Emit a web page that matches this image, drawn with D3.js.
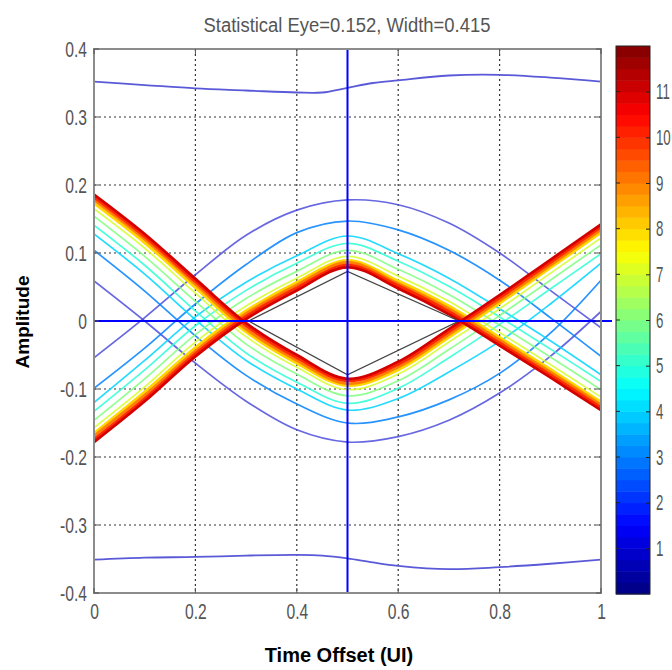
<!DOCTYPE html>
<html>
<head>
<meta charset="utf-8">
<script src="https://cdn.jsdelivr.net/npm/d3@7"></script>
<style>
  body { margin: 0; background: #fff; }
  svg { display: block; }
  .tick text { font-family: "Liberation Sans", Arial, sans-serif; fill: #555; }
</style>
</head>
<body>
<svg id="chart"></svg>
<script>
// ---- data ----
const xTicks = [0, 0.2, 0.4, 0.6, 0.8, 1];
const xTickLabels = ["0", "0.2", "0.4", "0.6", "0.8", "1"];
const yTicks = [-0.4, -0.3, -0.2, -0.1, 0, 0.1, 0.2, 0.3, 0.4];
const yTickLabels = ["-0.4", "-0.3", "-0.2", "-0.1", "0", "0.1", "0.2", "0.3", "0.4"];
const cbTicks = [1, 2, 3, 4, 5, 6, 7, 8, 9, 10, 11];

// time offsets (UI) shared by the contour traces
const timeGrid = [0, 0.1, 0.2, 0.3, 0.4, 0.5, 0.6, 0.7, 0.8, 0.9, 1];

// outermost contour (level 1), top and bottom
const outerX = [0, 0.1, 0.2, 0.3, 0.4, 0.45, 0.5, 0.55, 0.6, 0.7, 0.8, 0.9, 1];
const outerTop = [0.352, 0.347, 0.342, 0.339, 0.336, 0.336, 0.343, 0.350, 0.354, 0.361, 0.362, 0.358, 0.352];
const outerBottom = [-0.351, -0.348, -0.347, -0.345, -0.344, -0.345, -0.349, -0.355, -0.360, -0.365, -0.362, -0.357, -0.351];

// "V" traces (start high, trough at 0.5), levels 2..11
const vLevels = [2, 3, 4, 5, 6, 7, 8, 9, 10, 11];
const vL2  = [0.059, 0.000, -0.062, -0.118, -0.160, -0.178, -0.170, -0.146, -0.106, -0.052, 0.014];
const vL3  = [0.104, 0.044, -0.022, -0.080, -0.122, -0.150, -0.141, -0.116, -0.077, -0.018, 0.060];
const vL4  = [0.128, 0.069, 0.002, -0.058, -0.100, -0.131, -0.114, -0.075, -0.030, 0.025, 0.085];
const vL5  = [0.141, 0.082, 0.015, -0.047, -0.090, -0.121, -0.099, -0.054, -0.005, 0.047, 0.099];
const vL6  = [0.154, 0.095, 0.029, -0.034, -0.078, -0.110, -0.088, -0.042, 0.008, 0.060, 0.112];
const vL7  = [0.165, 0.107, 0.041, -0.023, -0.068, -0.101, -0.078, -0.031, 0.018, 0.070, 0.122];
const vL8  = [0.173, 0.115, 0.049, -0.016, -0.062, -0.095, -0.072, -0.024, 0.026, 0.078, 0.130];
const vL9  = [0.178, 0.120, 0.054, -0.012, -0.058, -0.092, -0.068, -0.020, 0.030, 0.082, 0.134];
const vL10 = [0.182, 0.124, 0.058, -0.007, -0.054, -0.088, -0.064, -0.016, 0.034, 0.086, 0.138];
const vL11 = [0.186, 0.128, 0.062, -0.003, -0.050, -0.085, -0.060, -0.012, 0.038, 0.090, 0.142];

// "Λ" traces (start low, peak at 0.5), levels 2..11
const aL2  = [-0.054, 0.005, 0.068, 0.126, 0.163, 0.178, 0.171, 0.144, 0.100, 0.045, -0.010];
const aL3  = [-0.099, -0.040, 0.025, 0.083, 0.130, 0.147, 0.134, 0.104, 0.060, 0.005, -0.052];
const aL4  = [-0.120, -0.058, 0.006, 0.057, 0.096, 0.125, 0.099, 0.063, 0.018, -0.029, -0.079];
const aL5  = [-0.133, -0.072, -0.007, 0.045, 0.085, 0.114, 0.088, 0.051, 0.006, -0.041, -0.089];
const aL6  = [-0.146, -0.085, -0.020, 0.033, 0.073, 0.104, 0.076, 0.039, -0.006, -0.053, -0.101];
const aL7  = [-0.157, -0.097, -0.031, 0.022, 0.063, 0.095, 0.066, 0.029, -0.017, -0.064, -0.112];
const aL8  = [-0.165, -0.104, -0.039, 0.015, 0.057, 0.089, 0.059, 0.022, -0.024, -0.071, -0.119];
const aL9  = [-0.169, -0.109, -0.044, 0.011, 0.053, 0.086, 0.055, 0.018, -0.028, -0.075, -0.123];
const aL10 = [-0.174, -0.114, -0.048, 0.007, 0.049, 0.082, 0.052, 0.014, -0.032, -0.079, -0.127];
const aL11 = [-0.178, -0.118, -0.052, 0.003, 0.045, 0.079, 0.048, 0.010, -0.036, -0.083, -0.131];

// eye opening outline (height 0.152, width 0.415)
const eyeX = [0.305, 0.5, 0.72, 0.5, 0.305];
const eyeY = [0, 0.073, 0, -0.079, 0];

const vTraces = [vL2, vL3, vL4, vL5, vL6, vL7, vL8, vL9, vL10, vL11];
const aTraces = [aL2, aL3, aL4, aL5, aL6, aL7, aL8, aL9, aL10, aL11];

// ---- layout ----
const width = 672, height = 670;
const plot = {left: 94, top: 49, right: 601, bottom: 593};
const cb = {left: 616, right: 650, top: 46, bottom: 594};

const svg = d3.select("#chart").attr("width", width).attr("height", height);

const x = d3.scaleLinear().domain([0, 1]).range([plot.left, plot.right]);
const y = d3.scaleLinear().domain([-0.4, 0.4]).range([plot.bottom, plot.top]);
const cbY = d3.scaleLinear().domain([0, 12]).range([cb.bottom, cb.top]);

// jet colormap
const jet = d3.scaleLinear()
    .domain([0, 0.125, 0.375, 0.625, 0.875, 1])
    .range(["#00007f", "#0000ff", "#00ffff", "#ffff00", "#ff0000", "#7f0000"]);
const levelColor = v => jet(v / 12);

// tall, narrow glyphs like the original figure font
function narrow(sel, sx, sy) {
    sel.each(function() {
        const t = d3.select(this);
        const tx = +t.attr("x") || 0, ty = +t.attr("y") || 0;
        t.attr("x", 0).attr("y", 0)
         .attr("transform", "translate(" + tx + "," + ty + ") scale(" + sx + "," + sy + ")");
    });
}

svg.append("defs").append("clipPath").attr("id", "clip")
    .append("rect")
    .attr("x", plot.left).attr("y", plot.top)
    .attr("width", plot.right - plot.left).attr("height", plot.bottom - plot.top);

// grid
const grid = svg.append("g").attr("class", "grid");
grid.selectAll(".gx").data(xTicks.slice(1, -1)).enter().append("line")
    .attr("x1", d => x(d)).attr("x2", d => x(d))
    .attr("y1", plot.top).attr("y2", plot.bottom)
    .attr("stroke", "#333").attr("stroke-width", 1.2).attr("stroke-dasharray", "2,3");
grid.selectAll(".gy").data(yTicks.slice(1, -1)).enter().append("line")
    .attr("x1", plot.left).attr("x2", plot.right)
    .attr("y1", d => y(d)).attr("y2", d => y(d))
    .attr("stroke", "#333").attr("stroke-width", 1.2).attr("stroke-dasharray", "2,3");

// contour traces
const traces = svg.append("g").attr("clip-path", "url(#clip)");
const gridLine = d3.line()
    .x((d, i) => x(timeGrid[i]))
    .y(d => y(d))
    .curve(d3.curveCatmullRom.alpha(0.5));
const outerLine = d3.line()
    .x((d, i) => x(outerX[i]))
    .y(d => y(d))
    .curve(d3.curveCatmullRom.alpha(0.5));

[outerTop, outerBottom].forEach(tr => {
    traces.append("path")
        .attr("d", outerLine(tr))
        .attr("fill", "none")
        .attr("stroke", "#5a5ad8")
        .attr("stroke-width", 1.8);
});

function strokeFor(lv) { return lv >= 8 ? 2.8 : 1.7; }

vLevels.forEach((lv, k) => {
    [vTraces[k], aTraces[k]].forEach(tr => {
        traces.append("path")
            .attr("d", gridLine(tr))
            .attr("fill", "none")
            .attr("stroke", lv <= 2 ? "#4c4cdc" : levelColor(lv))
            .attr("stroke-opacity", lv >= 8 ? 1 : 0.85)
            .attr("stroke-width", strokeFor(lv));
    });
});

// eye outline
traces.append("path")
    .attr("d", d3.line().x((d, i) => x(eyeX[i])).y(d => y(d))(eyeY))
    .attr("fill", "none")
    .attr("stroke", "#444")
    .attr("stroke-width", 1.3);

// crosshair
svg.append("line")
    .attr("x1", x(0)).attr("x2", plot.right + 11)
    .attr("y1", y(0)).attr("y2", y(0))
    .attr("stroke", "#0000ff").attr("stroke-width", 2);
svg.append("line")
    .attr("x1", x(0.5)).attr("x2", x(0.5))
    .attr("y1", plot.top).attr("y2", plot.bottom)
    .attr("stroke", "#0000ff").attr("stroke-width", 2);

// axes box
svg.append("rect")
    .attr("x", plot.left).attr("y", plot.top)
    .attr("width", plot.right - plot.left).attr("height", plot.bottom - plot.top)
    .attr("fill", "none").attr("stroke", "#8c8c8c").attr("stroke-width", 2);

// inner ticks
const ticksG = svg.append("g").attr("stroke", "#555").attr("stroke-width", 1);
yTicks.forEach(v => {
    ticksG.append("line").attr("x1", plot.left).attr("x2", plot.left + 5).attr("y1", y(v)).attr("y2", y(v));
    ticksG.append("line").attr("x1", plot.right - 5).attr("x2", plot.right).attr("y1", y(v)).attr("y2", y(v));
});
xTicks.forEach(v => {
    ticksG.append("line").attr("x1", x(v)).attr("x2", x(v)).attr("y1", plot.bottom - 5).attr("y2", plot.bottom);
    ticksG.append("line").attr("x1", x(v)).attr("x2", x(v)).attr("y1", plot.top).attr("y2", plot.top + 5);
});

// tick labels via axes
const xAxis = svg.append("g")
    .attr("transform", "translate(0," + plot.bottom + ")")
    .call(d3.axisBottom(x).tickValues(xTicks).tickSize(0).tickPadding(10)
        .tickFormat((d, i) => xTickLabels[i]));
const yAxis = svg.append("g")
    .attr("transform", "translate(" + plot.left + ",0)")
    .call(d3.axisLeft(y).tickValues(yTicks).tickSize(0).tickPadding(7)
        .tickFormat((d, i) => yTickLabels[i]));
[xAxis, yAxis].forEach(a => {
    a.select(".domain").remove();
    a.selectAll("text").style("font-size", "17px");
    narrow(a.selectAll("text"), 0.92, 1.3);
});

// colorbar
const cbBands = d3.range(0, 12, 0.25);
svg.append("g").selectAll("rect").data(cbBands).enter().append("rect")
    .attr("x", cb.left)
    .attr("y", d => cbY(d + 0.25))
    .attr("width", cb.right - cb.left)
    .attr("height", d => cbY(d) - cbY(d + 0.25) + 0.5)
    .attr("fill", d => levelColor(d + 0.125));
svg.append("rect")
    .attr("x", cb.left).attr("y", cb.top)
    .attr("width", cb.right - cb.left).attr("height", cb.bottom - cb.top)
    .attr("fill", "none").attr("stroke", "#222").attr("stroke-width", 1);
const cbAxis = svg.append("g")
    .attr("transform", "translate(" + cb.right + ",0)")
    .call(d3.axisRight(cbY).tickValues(cbTicks).tickSize(-4).tickPadding(6));
cbAxis.select(".domain").remove();
cbAxis.selectAll("line").attr("stroke", "#222");
cbAxis.selectAll("text").style("font-size", "17px");
narrow(cbAxis.selectAll("text"), 0.78, 1.3);
svg.append("g").selectAll("line").data(cbTicks).enter().append("line")
    .attr("x1", cb.left).attr("x2", cb.left + 4)
    .attr("y1", d => cbY(d)).attr("y2", d => cbY(d))
    .attr("stroke", "#222");

// title and axis titles
svg.append("text")
    .attr("transform", "translate(347,32) scale(1,1.15)")
    .attr("text-anchor", "middle")
    .attr("textLength", 287).attr("lengthAdjust", "spacingAndGlyphs")
    .style("font-family", "'Liberation Sans', Arial, sans-serif")
    .style("font-size", "17px").style("fill", "#555")
    .text("Statistical Eye=0.152, Width=0.415");

svg.append("text")
    .attr("transform", "translate(29,322) rotate(-90)")
    .attr("text-anchor", "middle")
    .style("font-family", "'Liberation Sans', Arial, sans-serif")
    .style("font-weight", "bold").style("font-size", "19px")
    .text("Amplitude");

svg.append("text")
    .attr("x", 339).attr("y", 662)
    .attr("text-anchor", "middle")
    .style("font-family", "'Liberation Sans', Arial, sans-serif")
    .style("font-weight", "bold").style("font-size", "20px")
    .text("Time Offset (UI)");
</script>
</body>
</html>
